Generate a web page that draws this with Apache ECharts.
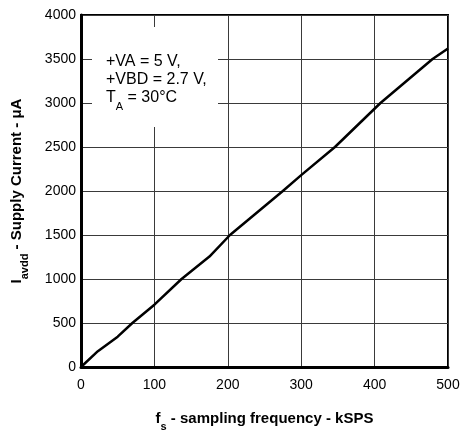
<!DOCTYPE html>
<html>
<head>
<meta charset="utf-8">
<script src="https://cdn.jsdelivr.net/npm/echarts@6/dist/echarts.min.js"></script>
<style>
  html, body { margin: 0; padding: 0; background: #fff; }
  #chart { width: 467px; height: 437px; }
</style>
</head>
<body>
<div id="chart"></div>
<script>
// sampling frequency (kSPS) vs supply current (uA)
const freqK = [0, 23, 50, 70, 100, 137, 175, 203, 275, 300, 346, 408, 479, 500];
const currentUA = [0, 180, 345, 500, 708, 1000, 1255, 1500, 2000, 2180, 2500, 3000, 3500, 3620];

const xTicks = [0, 100, 200, 300, 400, 500];
const yTicks = [0, 500, 1000, 1500, 2000, 2500, 3000, 3500, 4000];

const noteLines = ['+VA = 5 V,', '+VBD = 2.7 V,', 'T{sub|A} = 30°C'];

let font = 'Liberation Sans, Arial, sans-serif';

let data = [];
freqK.forEach((f, i) => {
	data.push([f, currentUA[i]]);
});

let subStyle = { fontFamily: font, fontSize: 11, fontWeight: 'bold', verticalAlign: 'bottom', padding: [0, 0, -6, 0] };

let chart = echarts.init(document.getElementById('chart'));
let options = {
	animation: false,
	grid: {
		left: 81,
		top: 15,
		right: 19,
		bottom: 55,
		show: true,
		borderColor: '#000',
		borderWidth: 2
	},
	xAxis: {
		type: 'value',
		min: xTicks[0],
		max: xTicks[xTicks.length - 1],
		interval: 100,
		name: 'f{sub|s} - sampling frequency - kSPS',
		nameLocation: 'middle',
		nameGap: 44,
		nameTextStyle: {
			fontFamily: font,
			fontSize: 15,
			fontWeight: 'bold',
			color: '#000',
			rich: { sub: subStyle }
		},
		axisLine: { show: true, onZero: false, lineStyle: { color: '#000', width: 3 } },
		axisTick: { show: false },
		axisLabel: { fontFamily: font, fontSize: 14, color: '#000', margin: 11, formatter: v => String(v) },
		splitLine: { show: true, lineStyle: { color: '#3a3a3a', width: 1 } }
	},
	yAxis: {
		type: 'value',
		min: yTicks[0],
		max: yTicks[yTicks.length - 1],
		interval: 500,
		name: 'I{sub|avdd} - Supply Current - \u03bcA',
		nameLocation: 'middle',
		nameGap: 57,
		nameTextStyle: {
			fontFamily: font,
			fontSize: 15,
			fontWeight: 'bold',
			color: '#000',
			rich: { sub: subStyle }
		},
		axisLine: { show: true, onZero: false, lineStyle: { color: '#000', width: 3 } },
		axisTick: { show: false },
		axisLabel: { fontFamily: font, fontSize: 14, color: '#000', margin: 5, formatter: v => String(v) },
		splitLine: { show: true, lineStyle: { color: '#3a3a3a', width: 1 } }
	},
	graphic: [
		{
			type: 'rect',
			left: 92,
			top: 27,
			z: 10,
			shape: { width: 126, height: 100 },
			style: { fill: '#fff' }
		},
		{
			type: 'text',
			left: 106,
			top: 53,
			z: 11,
			style: {
				text: noteLines.join('\n'),
				font: '16px ' + font,
				fill: '#000',
				lineHeight: 18,
				rich: {
					sub: { fontFamily: font, fontSize: 11, fill: '#000', verticalAlign: 'bottom', padding: [0, 0, -5, 0] }
				}
			}
		}
	],
	series: [
		{
			type: 'line',
			data: data,
			showSymbol: false,
			smooth: false,
			z: 5,
			lineStyle: { color: '#000', width: 2.5 }
		}
	]
};
chart.setOption(options);
</script>
</body>
</html>
